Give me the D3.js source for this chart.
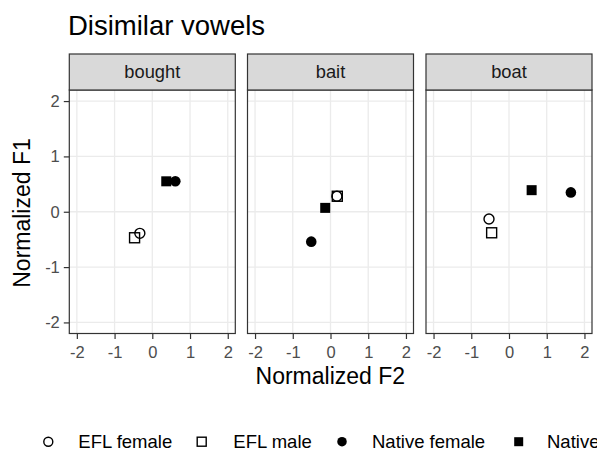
<!DOCTYPE html>
<html>
  <head>
    <meta charset="utf-8">
    <title>Disimilar vowels</title>
    <script src="https://d3js.org/d3.v7.min.js"></script>
    <style>
      body { margin: 0; background: #fff; overflow: hidden; }
      svg text { font-family: "Liberation Sans", Arial, sans-serif; }
    </style>
  </head>
  <body>
    <svg id="chart" width="597" height="451"></svg>
    <script>
      // data
      var vowels = ["bought", "bait", "boat"];
      var groups = ["EFL female", "EFL male", "Native female", "Native male"];
      var f2 = {
        bought: [-0.33, -0.47, 0.61, 0.37],
        bait:   [0.17, 0.18, -0.51, -0.14],
        boat:   [-0.53, -0.46, 1.64, 0.60]
      };
      var f1 = {
        bought: [-0.39, -0.47, 0.55, 0.55],
        bait:   [0.28, 0.28, -0.54, 0.07],
        boat:   [-0.13, -0.38, 0.35, 0.39]
      };
      var ticks = [-2, -1, 0, 1, 2];

      (function () {
        var svg = d3.select("#chart");
        var panelLefts = [69.3, 247.5, 426];
        var panelW = 166, panelTop = 90, panelBottom = 333.5, stripTop = 54;
        var tickLen = 5.5;

        var x = d3.scaleLinear().domain([-2.2, 2.2]).range([0, panelW]);
        var y = d3.scaleLinear().domain([-2.2, 2.2]).range([panelBottom, panelTop]);
        var fmt = function (d) { return String(d); };

        // shape per group: open circle, open square, filled circle, filled square
        function drawShape(g, i, cx, cy, k) {
          k = k || 1;
          var filled = i >= 2;
          if (i % 2 === 0) {
            g.append("circle").attr("cx", cx).attr("cy", cy)
              .attr("r", (filled ? 5.3 : 5.0) * k)
              .attr("fill", filled ? "#000" : "none")
              .attr("stroke", "#000").attr("stroke-width", filled ? 0 : 1.4);
          } else {
            var s = 10 * k;
            g.append("rect").attr("x", cx - s / 2).attr("y", cy - s / 2)
              .attr("width", s).attr("height", s)
              .attr("fill", filled ? "#000" : "none")
              .attr("stroke", "#000").attr("stroke-width", filled ? 0 : 1.4);
          }
        }

        vowels.forEach(function (v, k) {
          var g = svg.append("g").attr("transform", "translate(" + panelLefts[k] + ",0)");

          g.append("rect").attr("x", 0).attr("y", panelTop).attr("width", panelW)
            .attr("height", panelBottom - panelTop).attr("fill", "#fff");

          // grid
          g.selectAll(".gx").data(ticks).enter().append("line")
            .attr("x1", function (d) { return x(d); }).attr("x2", function (d) { return x(d); })
            .attr("y1", panelTop).attr("y2", panelBottom)
            .attr("stroke", "#EBEBEB").attr("stroke-width", 1.3);
          g.selectAll(".gy").data(ticks).enter().append("line")
            .attr("x1", 0).attr("x2", panelW)
            .attr("y1", function (d) { return y(d); }).attr("y2", function (d) { return y(d); })
            .attr("stroke", "#EBEBEB").attr("stroke-width", 1.3);

          // points
          groups.forEach(function (grp, i) {
            drawShape(g, i, x(f2[v][i]), y(f1[v][i]));
          });

          // panel border
          g.append("rect").attr("x", 0).attr("y", panelTop).attr("width", panelW)
            .attr("height", panelBottom - panelTop).attr("fill", "none")
            .attr("stroke", "#333333").attr("stroke-width", 1.2);

          // strip
          g.append("rect").attr("x", 0).attr("y", stripTop).attr("width", panelW)
            .attr("height", panelTop - stripTop).attr("fill", "#D9D9D9")
            .attr("stroke", "#333333").attr("stroke-width", 1.2);
          g.append("text").attr("x", panelW / 2).attr("y", 78.3)
            .attr("text-anchor", "middle").attr("font-size", 18.3).attr("fill", "#1A1A1A")
            .text(v);

          // x axis
          var xa = g.append("g").attr("transform", "translate(0," + panelBottom + ")")
            .call(d3.axisBottom(x).tickValues(ticks).tickSize(tickLen).tickFormat(fmt));
          xa.select(".domain").remove();
          xa.selectAll("line").attr("stroke", "#333333").attr("stroke-width", 1.2);
          xa.selectAll("text").attr("y", 358.3 - panelBottom).attr("dy", null)
            .attr("font-size", 16.5).attr("fill", "#4D4D4D")
            .attr("font-family", "Liberation Sans, Arial, sans-serif");

          if (k === 0) {
            var ya = g.append("g")
              .call(d3.axisLeft(y).tickValues(ticks).tickSize(tickLen).tickPadding(4).tickFormat(fmt));
            ya.select(".domain").remove();
            ya.selectAll("line").attr("stroke", "#333333").attr("stroke-width", 1.2);
            ya.selectAll("text").attr("font-size", 16.5).attr("fill", "#4D4D4D")
              .attr("font-family", "Liberation Sans, Arial, sans-serif");
          }
        });

        // title and axis labels
        svg.append("text").attr("x", 68).attr("y", 35).attr("font-size", 27.5)
          .attr("fill", "#000").text("Disimilar vowels");
        svg.append("text").attr("x", 330.3).attr("y", 384.3).attr("text-anchor", "middle")
          .attr("font-size", 23).attr("fill", "#000").text("Normalized F2");
        svg.append("text").attr("transform", "translate(29.5,213) rotate(-90)")
          .attr("text-anchor", "middle").attr("font-size", 23).attr("fill", "#000")
          .text("Normalized F1");

        // legend
        var legShapeX = [48.3, 201.7, 342, 518.7];
        var legTextX = [78.3, 233.3, 372, 547];
        var legY = 441.7;
        groups.forEach(function (grp, i) {
          drawShape(svg, i, legShapeX[i], legY, 0.9);
          svg.append("text").attr("x", legTextX[i]).attr("y", legY + 6.5)
            .attr("font-size", 18.5).attr("fill", "#000").text(grp);
        });
      })();
    </script>
  </body>
</html>
